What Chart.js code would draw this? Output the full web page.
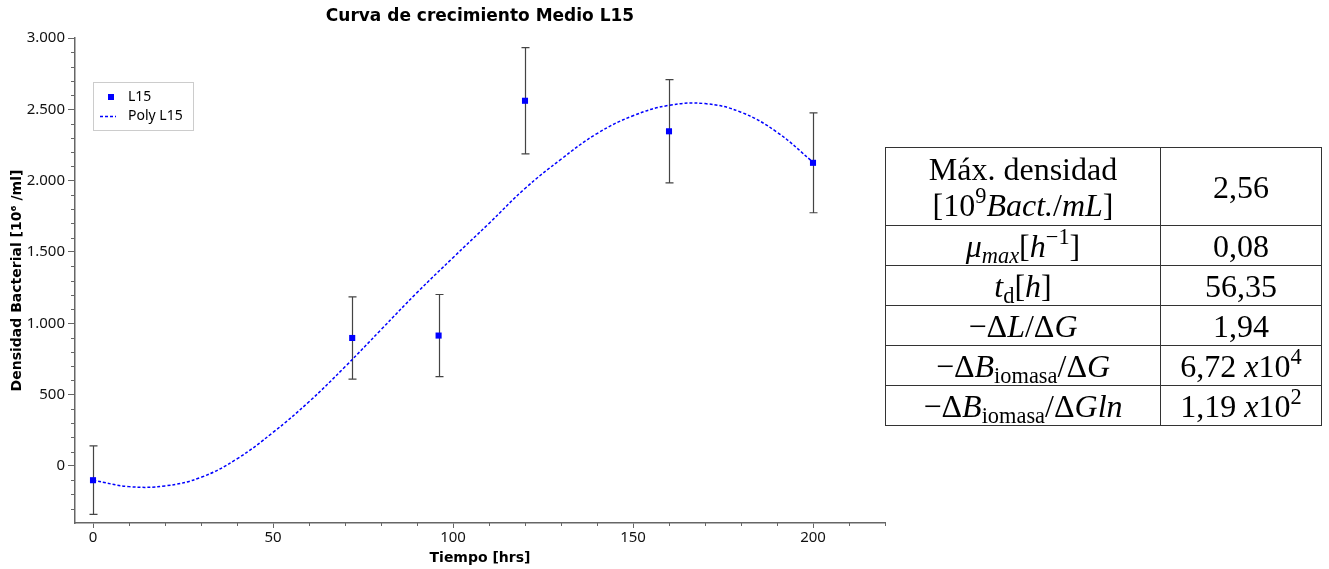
<!DOCTYPE html>
<html lang="es">
<head>
<meta charset="UTF-8">
<title>Curva de crecimiento Medio L15</title>
<style>
  body {
    margin: 0;
    background: #fff;
    width: 1329px;
    height: 569px;
    overflow: hidden;
    position: relative;
  }
  .grafico {
    position: absolute;
    left: 0;
    top: 0;
    width: 900px;
    height: 569px;
  }
  table.parametros {
    position: absolute;
    left: 885px;
    top: 147px;
    border-collapse: collapse;
    font-family: "Liberation Serif", serif;
    font-size: 32px;
    color: #000;
  }
  table.parametros td {
    border: 1px solid #333;
    text-align: center;
    vertical-align: middle;
    padding: 0;
    line-height: 36px;
    white-space: nowrap;
  }
  table.parametros td.nombre { width: 274px; }
  table.parametros td.valor { width: 160px; }
  table.parametros tr { height: 40px; }
  table.parametros tr.doble { height: 78px; }
  table.parametros sup, table.parametros sub {
    font-size: 0.7em;
    vertical-align: 0;
    position: relative;
    line-height: 0;
  }
  table.parametros sup { top: -0.55em; }
  table.parametros sub { top: 0.3em; }
</style>
</head>
<body>
<div class="grafico"><canvas id="curva"></canvas></div>

<table class="parametros">
  <tr class="doble"><td class="nombre">Máx. densidad<br>[10<sup>9</sup><i>Bact.</i>/<i>mL</i>]</td><td class="valor">2,56</td></tr>
  <tr><td class="nombre"><i>μ</i><sub><i>max</i></sub>[<i>h</i><sup>−1</sup>]</td><td class="valor">0,08</td></tr>
  <tr><td class="nombre"><i>t</i><sub>d</sub>[<i>h</i>]</td><td class="valor">56,35</td></tr>
  <tr><td class="nombre">−Δ<i>L</i>/Δ<i>G</i></td><td class="valor">1,94</td></tr>
  <tr><td class="nombre">−Δ<i>B</i><sub>iomasa</sub>/Δ<i>G</i></td><td class="valor">6,72 <i>x</i>10<sup>4</sup></td></tr>
  <tr><td class="nombre">−Δ<i>B</i><sub>iomasa</sub>/Δ<i>Gln</i></td><td class="valor">1,19 <i>x</i>10<sup>2</sup></td></tr>
</table>

<script src="https://cdn.jsdelivr.net/npm/chart.js"></script>
<script>
// mediciones L15 (hrs, 10^6 bact/ml) con su desviación
const tiempo = [0, 72, 96, 120, 160, 200];
const densidad = [-100, 897, 914, 2560, 2346, 2125];
const errorDensidad = [240, 288, 288, 372, 362, 350];

// ajuste polinómico, leído cada 10 hrs
const tiempoAjuste = [0, 10, 20, 30, 40, 50, 60, 70, 80, 90, 100, 110, 120, 130, 140, 150, 160, 170, 180, 190, 200];
const densidadAjuste = [-100, -145, -140, -80, 50, 235, 450, 695, 955, 1215, 1460, 1700, 1945, 2150, 2330, 2455, 2528, 2540, 2480, 2340, 2130];

const ticksX = [0, 50, 100, 150, 200];
const ticksY = [0, 500, 1000, 1500, 2000, 2500, 3000];

const AZUL = '#0000ff';
const EJE = '#666';

function miles(v) {
    return String(v).replace(/\B(?=(\d{3})+(?!\d))/g, '.');
}

// barras de error, ticks menores, títulos y leyenda
const extras = {
    id: 'extras',
    beforeDatasetsDraw(chart) {
        const ctx = chart.ctx;
        const xs = chart.scales.x, ys = chart.scales.y;
        ctx.save();
        ctx.strokeStyle = '#444';
        ctx.lineWidth = 1.2;
        tiempo.forEach((t, i) => {
            const x = Math.round(xs.getPixelForValue(t)) + 0.5;
            const y1 = ys.getPixelForValue(densidad[i] + errorDensidad[i]);
            const y2 = ys.getPixelForValue(densidad[i] - errorDensidad[i]);
            ctx.beginPath();
            ctx.moveTo(x, y1); ctx.lineTo(x, y2);
            ctx.moveTo(x - 4, y1); ctx.lineTo(x + 4, y1);
            ctx.moveTo(x - 4, y2); ctx.lineTo(x + 4, y2);
            ctx.stroke();
        });
        ctx.restore();
    },
    afterDraw(chart) {
        const ctx = chart.ctx;
        const xs = chart.scales.x, ys = chart.scales.y;
        const area = chart.chartArea;
        ctx.save();

        // ticks menores
        ctx.strokeStyle = EJE;
        ctx.lineWidth = 1;
        ctx.beginPath();
        for (let v = -300; v <= 3000; v += 100) {
            if (v % 500 === 0) continue;
            const y = Math.round(ys.getPixelForValue(v)) + 0.5;
            ctx.moveTo(area.left - 4, y); ctx.lineTo(area.left, y);
        }
        for (let v = 10; v <= 220; v += 10) {
            if (v % 50 === 0) continue;
            const x = Math.round(xs.getPixelForValue(v)) + 0.5;
            ctx.moveTo(x, area.bottom); ctx.lineTo(x, area.bottom + 3);
        }
        ctx.stroke();

        // títulos
        ctx.fillStyle = '#000';
        ctx.textAlign = 'center';
        ctx.textBaseline = 'middle';
        ctx.font = 'bold 17px "DejaVu Sans"';
        ctx.fillText('Curva de crecimiento Medio L15', (area.left + area.right) / 2, 17);
        ctx.font = 'bold 14px "DejaVu Sans"';
        ctx.fillText('Tiempo [hrs]', (area.left + area.right) / 2, 558);
        ctx.save();
        ctx.translate(17, (area.top + area.bottom) / 2);
        ctx.rotate(-Math.PI / 2);
        ctx.fillText('Densidad Bacterial [10⁶ /ml]', 0, 0);
        ctx.restore();

        // leyenda
        ctx.strokeStyle = '#999';
        ctx.lineWidth = 1;
        ctx.setLineDash([1, 1]);
        ctx.strokeRect(93.5, 82.5, 100, 48);
        ctx.setLineDash([]);
        ctx.fillStyle = AZUL;
        ctx.fillRect(108, 94, 6, 6);
        ctx.strokeStyle = AZUL;
        ctx.lineWidth = 1.5;
        ctx.setLineDash([3, 2]);
        ctx.beginPath();
        ctx.moveTo(100, 116.5); ctx.lineTo(116, 116.5);
        ctx.stroke();
        ctx.setLineDash([]);
        ctx.fillStyle = '#000';
        ctx.textAlign = 'left';
        ctx.font = '14px "Noto Sans"';
        ctx.fillText('L15', 128, 97);
        ctx.fillText('Poly L15', 128, 116);
        ctx.restore();
    }
};

new Chart(document.getElementById('curva'), {
    type: 'scatter',
    data: {
        datasets: [
            {
                label: 'Poly L15',
                data: tiempoAjuste.map((t, i) => ({ x: t, y: densidadAjuste[i] })),
                showLine: true,
                borderColor: AZUL,
                borderWidth: 1.5,
                borderDash: [3, 2],
                pointRadius: 0,
                tension: 0.4,
                fill: false
            },
            {
                label: 'L15',
                data: tiempo.map((t, i) => ({ x: t, y: densidad[i] })),
                pointStyle: 'rect',
                pointRadius: 4.3,
                backgroundColor: AZUL,
                borderColor: AZUL,
                borderWidth: 0
            }
        ]
    },
    options: {
        animation: false,
        responsive: true,
        maintainAspectRatio: false,
        layout: { padding: { top: 38, right: 15, left: 0, bottom: 0 } },
        plugins: {
            legend: { display: false },
            tooltip: { enabled: false },
            title: { display: false }
        },
        scales: {
            x: {
                type: 'linear',
                min: -5,
                max: 220,
                afterBuildTicks: s => { s.ticks = ticksX.map(v => ({ value: v })); },
                afterFit: s => { s.height = 46; },
                grid: { drawOnChartArea: false, drawTicks: true, tickLength: 5, tickColor: EJE },
                border: { color: EJE, width: 1.5 },
                ticks: {
                    color: '#111',
                    font: { family: 'Noto Sans', size: 15 },
                    padding: 1,
                    maxRotation: 0,
                    autoSkip: false
                }
            },
            y: {
                min: -400,
                max: 3000,
                afterBuildTicks: s => { s.ticks = ticksY.map(v => ({ value: v })); },
                afterFit: s => { s.width = 75; },
                grid: { drawOnChartArea: false, drawTicks: true, tickLength: 7, tickColor: EJE },
                border: { color: EJE, width: 1.5 },
                ticks: {
                    color: '#111',
                    font: { family: 'Noto Sans', size: 15 },
                    padding: 3,
                    autoSkip: false,
                    callback: v => miles(v)
                }
            }
        }
    },
    plugins: [extras]
});
</script>
</body>
</html>
